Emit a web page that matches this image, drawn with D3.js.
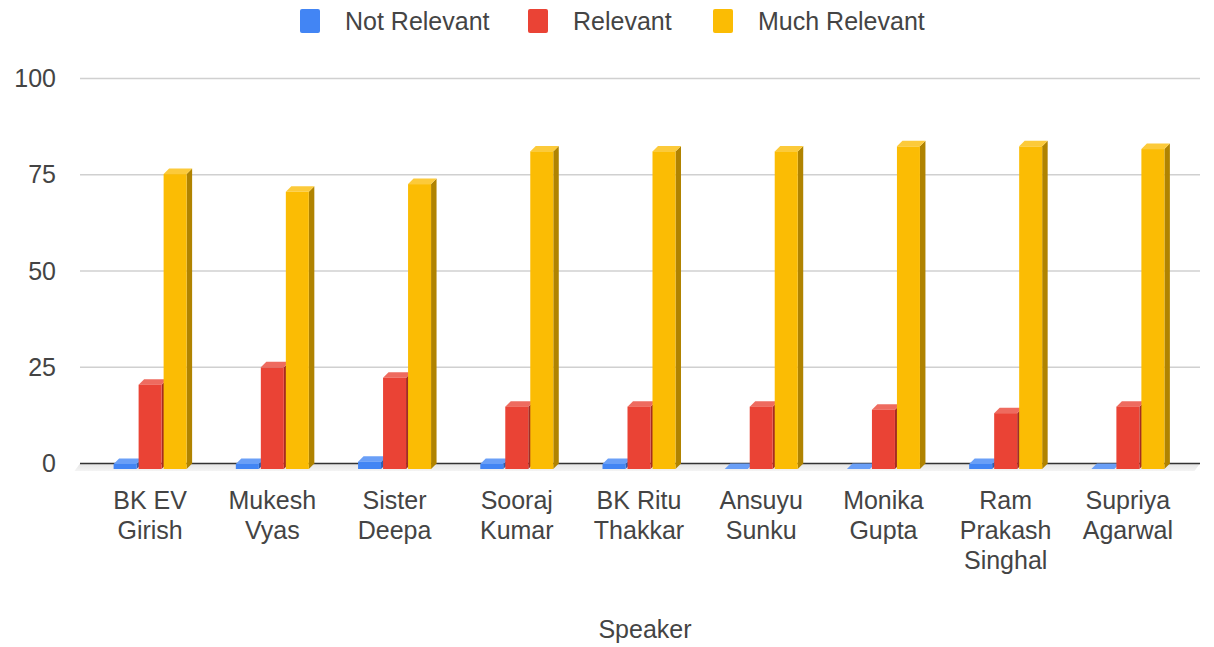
<!DOCTYPE html>
<html>
<head>
<meta charset="utf-8">
<script src="https://cdn.jsdelivr.net/npm/d3@7/dist/d3.min.js"></script>
<style>
  html, body { margin: 0; padding: 0; background: #fff; }
  svg { display: block; font-family: "Liberation Sans", Arial, sans-serif; }
</style>
</head>
<body>
<svg id="chart" width="1214" height="647"></svg>
<script>
// Speakers and the share of responses per relevance level
const speakers = ["BK EV Girish", "Mukesh Vyas", "Sister Deepa", "Sooraj Kumar", "BK Ritu Thakkar",
                  "Ansuyu Sunku", "Monika Gupta", "Ram Prakash Singhal", "Supriya Agarwal"];
const seriesNames = ["Not Relevant", "Relevant", "Much Relevant"];
const notRelevant  = [1.3, 1.3, 1.9, 1.3, 1.3, 0, 0, 1.3, 0];
const relevant     = [21.9, 26.4, 23.7, 16.2, 16.2, 16.2, 15.4, 14.5, 16.2];
const muchRelevant = [76.6, 72.0, 74.0, 82.5, 82.5, 82.5, 83.8, 83.8, 83.1];
const yTicks = [0, 25, 50, 75, 100];

const seriesValues = [notRelevant, relevant, muchRelevant];
const palette = [
  { front: "#4285F4", top: "#6a9ff7", side: "#2d5fb3" },
  { front: "#EA4335", top: "#ee6b5f", side: "#a52c22" },
  { front: "#FBBC04", top: "#fcca3a", side: "#b08300" }
];

const depth = 5.5;               // 3D extrusion offset (px)
const plotLeft = 80, plotRight = 1200;
const svg = d3.select("#chart");

const y = d3.scaleLinear().domain([0, 100]).range([463.5, 78.5]);
const x = d3.scaleBand().domain(speakers).range([89, 1189]).paddingInner(0).paddingOuter(0);
const groupWidth = 73;
const xs = d3.scaleBand().domain(seriesNames).range([-groupWidth / 2, groupWidth / 2]).paddingInner(0.08);

// Floor under the back baseline, fading toward the viewer
const defs = svg.append("defs");
const grad = defs.append("linearGradient").attr("id", "floorGrad")
  .attr("x1", 0).attr("y1", 0).attr("x2", 0).attr("y2", 1);
grad.append("stop").attr("offset", "0%").attr("stop-color", "#e4e4e4");
grad.append("stop").attr("offset", "100%").attr("stop-color", "#f4f4f4");
svg.append("path")
  .attr("d", `M${plotLeft},${y(0)} L${plotRight},${y(0)} L${plotRight - depth},${y(0) + depth + 2} L${plotLeft - depth},${y(0) + depth + 2} Z`)
  .attr("fill", "url(#floorGrad)");

// Gridlines on the back plane
const grid = svg.append("g");
grid.selectAll("line").data(yTicks.filter(t => t !== 0)).join("line")
  .attr("x1", plotLeft).attr("x2", plotRight)
  .attr("y1", d => y(d)).attr("y2", d => y(d))
  .attr("stroke", "#d0d0d0").attr("stroke-width", 1.5);

// Baseline
svg.append("line")
  .attr("x1", plotLeft).attr("x2", plotRight)
  .attr("y1", y(0)).attr("y2", y(0))
  .attr("stroke", "#333").attr("stroke-width", 1.5);

// Y-axis tick labels
const yAxis = d3.axisLeft(y).tickValues(yTicks).tickSize(0).tickPadding(0);
const yg = svg.append("g").attr("transform", "translate(56,0)").call(yAxis);
yg.select(".domain").remove();
yg.selectAll("text")
  .attr("font-size", 25).attr("fill", "#444")
  .attr("font-family", "'Liberation Sans', Arial, sans-serif");

// 3D bars: front face sits depth px left of and below the back plane
const bars = svg.append("g");
speakers.forEach((sp, i) => {
  seriesNames.forEach((s, k) => {
    const v = seriesValues[k][i];
    const c = palette[k];
    const x0 = x(sp) + x.bandwidth() / 2 + xs(s);
    const x1 = x0 + xs.bandwidth();
    const yb = y(0) + depth;        // front bottom
    const yt = y(v) + depth;        // front top
    const g = bars.append("g");
    // side face
    g.append("path")
      .attr("d", `M${x1},${yb} L${x1 + depth},${yb - depth} L${x1 + depth},${yt - depth} L${x1},${yt} Z`)
      .attr("fill", c.side);
    // top face
    g.append("path")
      .attr("d", `M${x0},${yt} L${x0 + depth},${yt - depth} L${x1 + depth},${yt - depth} L${x1},${yt} Z`)
      .attr("fill", c.top);
    // front face
    g.append("rect")
      .attr("x", x0).attr("y", yt)
      .attr("width", x1 - x0).attr("height", Math.max(0, yb - yt))
      .attr("fill", c.front);
  });
});

// X-axis category labels, wrapped
const xg = svg.append("g");
function wrapWords(text, maxW, ctx) {
  const words = text.split(" ");
  const lines = [];
  let cur = "";
  words.forEach(w => {
    const t = cur ? cur + " " + w : w;
    if (cur && ctx.measureText(t).width > maxW) { lines.push(cur); cur = w; }
    else cur = t;
  });
  if (cur) lines.push(cur);
  return lines;
}
const ctx = document.createElement("canvas").getContext("2d");
ctx.font = "25px 'Liberation Sans', Arial, sans-serif";
speakers.forEach(sp => {
  const lines = wrapWords(sp, 112, ctx);
  const t = xg.append("text")
    .attr("text-anchor", "middle")
    .attr("font-size", 25).attr("fill", "#444");
  lines.forEach((ln, j) => {
    t.append("tspan")
      .attr("x", x(sp) + x.bandwidth() / 2)
      .attr("y", 509 + j * 30)
      .text(ln);
  });
});

// X-axis title
svg.append("text")
  .attr("x", (plotLeft + plotRight) / 2 + 5).attr("y", 638)
  .attr("text-anchor", "middle")
  .attr("font-size", 25).attr("fill", "#444")
  .text("Speaker");

// Legend
const legendX = [300, 528, 713];
const legend = svg.append("g");
seriesNames.forEach((s, k) => {
  legend.append("rect")
    .attr("x", legendX[k]).attr("y", 9)
    .attr("width", 20).attr("height", 24).attr("rx", 2)
    .attr("fill", palette[k].front);
  legend.append("text")
    .attr("x", legendX[k] + 45).attr("y", 30)
    .attr("font-size", 25).attr("fill", "#444")
    .text(s);
});
</script>
</body>
</html>
